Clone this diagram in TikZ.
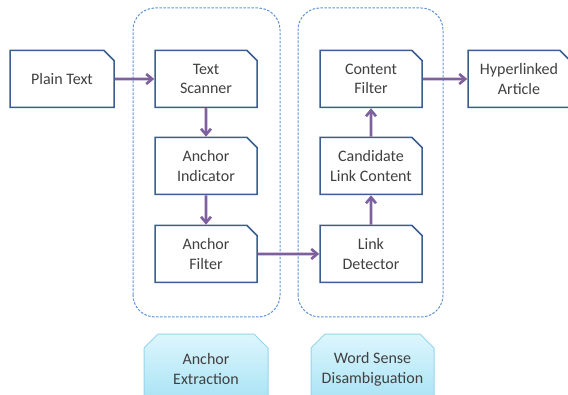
\documentclass[tikz,border=0pt]{standalone}
\usepackage{fontspec}
\setmainfont{Carlito}
\usetikzlibrary{shapes.misc,arrows.meta}

\definecolor{boxline}{HTML}{3A5F8F}
\definecolor{flow}{HTML}{7E609F}
\definecolor{groupline}{HTML}{5D95D6}
\definecolor{tagtop}{HTML}{DDF6FD}
\definecolor{tagbot}{HTML}{A6E2F4}
\definecolor{tagline}{HTML}{95D5EA}
\definecolor{txt}{HTML}{404040}

\tikzset{
  stage/.style={chamfered rectangle, chamfered rectangle corners=north east,
    chamfered rectangle xsep=5pt, chamfered rectangle ysep=5pt,
    draw=boxline, line width=1.5pt, fill=white, text=txt,
    minimum width=102pt, minimum height=57pt, align=center,
    font=\fontsize{16}{19.5}\selectfont},
  grp/.style={draw=groupline, line width=1pt, dash pattern=on 2.5pt off 1.5pt,
    rounded corners=22pt},
  tag/.style={chamfered rectangle, chamfered rectangle corners={north west,north east},
    chamfered rectangle xsep=7pt, chamfered rectangle ysep=7pt,
    draw=tagline, line width=1pt, top color=tagtop, bottom color=tagbot,
    text=txt, minimum width=123pt, minimum height=70pt, align=center,
    font=\fontsize{16}{20}\selectfont},
  flowarrow/.style={draw=flow, line width=2.6pt, -{Straight Barb[length=6pt,width=10pt]}}
}

\begin{document}
\begin{tikzpicture}[x=1pt,y=1pt]
    \useasboundingbox (0,0) rectangle (568,394);

    % gruppi tratteggiati
    \draw[grp] (133,77) rectangle (280,386);
    \draw[grp] (298,77) rectangle (443,386);

    % blocchi
    \node[stage, minimum width=104pt] (plain) at (62,315) {Plain Text};
    \node[stage] (scanner) at (206,315) {Text\\Scanner};
    \node[stage] (indicator) at (206,228) {Anchor\\Indicator};
    \node[stage] (afilter) at (206,140) {Anchor\\Filter};
    \node[stage] (detector) at (371,140) {Link\\Detector};
    \node[stage] (candidate) at (371,228) {Candidate\\Link Content};
    \node[stage] (cfilter) at (371,315) {Content\\Filter};
    \node[stage] (article) at (519,315) {Hyperlinked\\Article};

    % etichette in basso
    \node[tag, minimum width=124pt] (extraction) at (206,25) {Anchor\\Extraction};
    \node[tag] (wsd) at (372.5,25) {Word Sense\\Disambiguation};

    % frecce
    \draw[flowarrow] (plain) -- (scanner);
    \draw[flowarrow] (scanner) -- (indicator);
    \draw[flowarrow] (indicator) -- (afilter);
    \draw[flowarrow] (afilter) -- (detector);
    \draw[flowarrow] (detector) -- (candidate);
    \draw[flowarrow] (candidate) -- (cfilter);
    \draw[flowarrow] (cfilter) -- (article);
\end{tikzpicture}
\end{document}
